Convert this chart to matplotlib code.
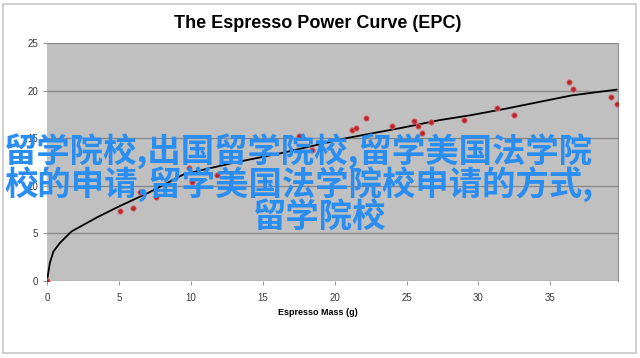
import matplotlib
matplotlib.use("Agg")
import matplotlib.pyplot as plt
from matplotlib.patches import Rectangle

# measured shots (red dots)
shot_mass = [0.0, 5.1, 6.0, 6.5, 7.6, 9.9, 10.1, 11.8, 17.5, 18.4, 21.2, 21.5, 22.2,
             24.0, 25.5, 25.8, 26.1, 26.7, 29.0, 31.3, 32.5, 36.3, 36.6, 39.2, 39.6]
shot_power = [0.0, 7.4, 7.7, 9.3, 8.8, 11.9, 10.4, 11.1, 15.2, 13.8, 15.9, 16.1, 17.1,
              16.3, 16.8, 16.3, 15.5, 16.7, 16.9, 18.2, 17.4, 20.9, 20.2, 19.3, 18.6]

# fitted curve (black line)
curve_mass = [0.0, 0.2, 0.45, 0.9, 1.7, 3.5, 5.1, 7.1, 9.5, 12.9, 16.2, 20.8,
              24.7, 27.3, 29.4, 31.9, 36.5, 39.6]
curve_power = [0.0, 1.9, 3.1, 4.0, 5.2, 6.7, 7.9, 9.3, 11.2, 12.4, 13.4, 15.0,
               16.1, 16.9, 17.4, 18.1, 19.5, 20.1]

x_ticks = [0, 5, 10, 15, 20, 25, 30, 35]
y_ticks = [0, 5, 10, 15, 20, 25]

title = "The Espresso Power Curve (EPC)"
x_label = "Espresso Mass (g)"
overlay_lines = ["留学院校,出国留学院校,留学美国法学院",
                 "校的申请,留学美国法学院校申请的方式,",
                 "留学院校"]

plt.rcParams['font.family'] = ['Liberation Sans', 'DejaVu Sans']

fig = plt.figure(figsize=(6.4, 3.58), dpi=100)
fig.patches.append(Rectangle((0.005, 0.015), 0.988, 0.975, transform=fig.transFigure,
                             fill=False, edgecolor='#c8c8c8', linewidth=1.2))

ax = fig.add_axes([0.0734, 0.2151, 0.8922, 0.6648])
ax.set_facecolor('#c0c0c0')
ax.set_xlim(0, 39.7)
ax.set_ylim(0, 25)
ax.set_xticks(x_ticks)
ax.set_yticks(y_ticks)
ax.grid(axis='y', color='#858585', linewidth=0.9)
ax.set_axisbelow(True)
for side in ['left', 'bottom', 'top']:
    ax.spines[side].set_visible(False)
ax.spines['right'].set_color('#909090')
ax.tick_params(axis='both', labelsize=7, colors='#9a9a9a', labelcolor='#3a3a3a', length=3, width=0.8)
ax.tick_params(axis='x', pad=6)

ax.plot(curve_mass, curve_power, color='black', linewidth=1.3, zorder=3)
ax.plot(shot_mass, shot_power, linestyle='none', marker='o', markersize=3.8,
        color='#b8242b', markeredgecolor='#d86a6a', markeredgewidth=0.6, zorder=4)

fig.text(0.4965, 0.934, title, ha='center', va='center', fontsize=13, fontweight='bold')
fig.text(0.497, 0.128, x_label, ha='center', va='center', fontsize=6.5, fontweight='bold')

# watermark text, one line at a time (last line sits a bit right of centre)
line_x = [0.467, 0.467, 0.5]
line_y = [0.578, 0.483, 0.392]
for txt, lx, ly in zip(overlay_lines, line_x, line_y):
    fig.text(lx, ly, txt, ha='center', va='center', fontsize=24, fontweight='bold',
             color='#2a8df2', family=['Noto Sans CJK SC', 'DejaVu Sans'], zorder=10)

fig.savefig("out.png", dpi=100)
